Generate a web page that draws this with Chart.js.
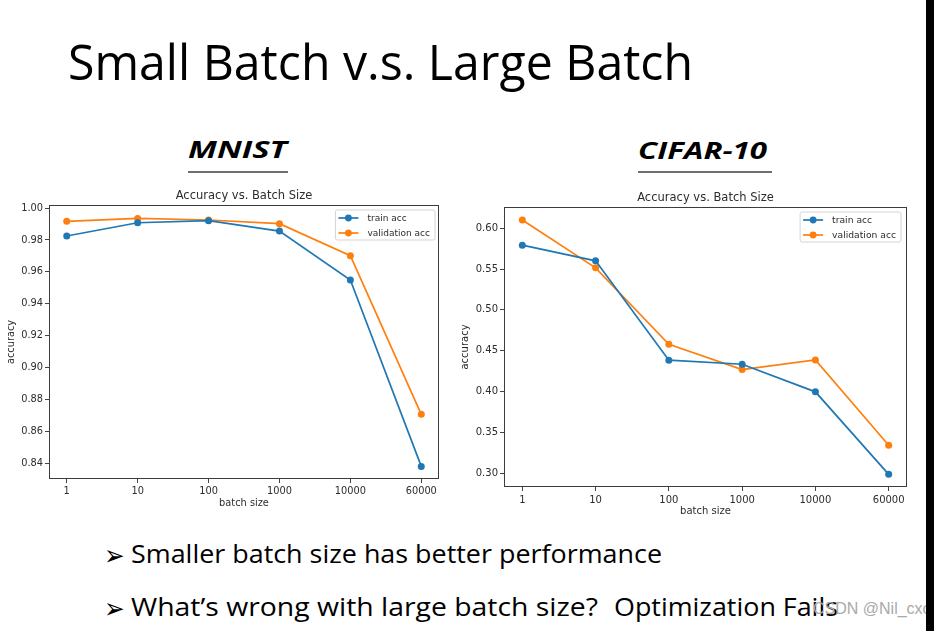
<!DOCTYPE html>
<html>
<head>
<meta charset="utf-8">
<script src="https://cdn.jsdelivr.net/npm/chart.js@4.4.0/dist/chart.umd.min.js"></script>
<style>
  body { margin: 0; width: 934px; height: 631px; background: #fff; overflow: hidden; position: relative; font-family: 'Open Sans', sans-serif; color: #000; }
  .txt { position: absolute; white-space: nowrap; line-height: 1; transform-origin: 0 0; }
  .uline { position: absolute; height: 2.5px; background: #6e6e6e; }
  .arrow { font-family: 'DejaVu Sans', sans-serif; font-size: 28px; transform: scaleX(0.88); }
  .panel { position: absolute; }
  #mark { font-family: 'Liberation Sans', Arial, sans-serif; color: #a9a9a9; font-size: 16px; }
  #edge { position: absolute; left: 926px; top: 0; width: 8px; height: 631px; background: #000; }
</style>
</head>
<body>

<div class="txt" id="title" style="left:68px; top:36px; font-size:50px;">Small Batch v.s. Large Batch</div>

<div class="txt" id="mnistHead" style="left:188px; top:137px; font-size:24px; font-weight:700; font-style:italic;">MNIST</div>
<div class="uline" style="left:188px; top:170.5px; width:100px;"></div>
<div class="txt" id="cifarHead" style="left:638px; top:137.5px; font-size:24px; font-weight:700; font-style:italic;">CIFAR-10</div>
<div class="uline" style="left:638px; top:170.5px; width:134px;"></div>

<div class="panel" style="left:0px; top:185px;"><canvas id="mnist-chart" width="446" height="326"></canvas></div>
<div class="panel" style="left:455px; top:187px;"><canvas id="cifar-chart" width="458" height="332"></canvas></div>

<div class="txt arrow" style="left:104px; top:542px;">&#10146;</div>
<div class="txt" id="line1" style="left:131px; top:540px; font-size:26px;">Smaller batch size has better performance</div>
<div class="txt arrow" style="left:104px; top:595px;">&#10146;</div>
<div class="txt" id="line2a" style="left:131px; top:593px; font-size:26px;">What’s wrong with large batch size?</div>
<div class="txt" id="line2b" style="left:614px; top:593px; font-size:26px;">Optimization Fails</div>

<div class="txt" id="mark" style="left:813px; top:600.5px;">CSDN @Nil_cxc</div>
<div id="edge"></div>

<script>
// Data
const batchSizes = ['1', '10', '100', '1000', '10000', '60000'];

const mnistTrain = [0.9825, 0.9908, 0.9921, 0.9856, 0.9550, 0.8383];
const mnistVal   = [0.9917, 0.9935, 0.9925, 0.9902, 0.9702, 0.8709];
const mnistTicks = [0.84, 0.86, 0.88, 0.90, 0.92, 0.94, 0.96, 0.98, 1.00];

const cifarTrain = [0.5792, 0.5600, 0.4383, 0.4333, 0.3995, 0.2984];
const cifarVal   = [0.6101, 0.5515, 0.4578, 0.4268, 0.4386, 0.3340];
const cifarTicks = [0.30, 0.35, 0.40, 0.45, 0.50, 0.55, 0.60];

const BLUE = '#1f77b4';
const ORANGE = '#ff7f0e';
const INK = '#2c2c2c';

Chart.defaults.font.family = "'DejaVu Sans', sans-serif";
Chart.defaults.color = INK;

// squeeze or stretch a text block to the width it has in the slide
function fitWidth(id, width) {
  const el = document.getElementById(id);
  const w = el.getBoundingClientRect().width;
  el.style.transform = 'scaleX(' + (width / w) + ')';
}

fitWidth('title', 625);
fitWidth('mnistHead', 99);
fitWidth('cifarHead', 129);
fitWidth('line1', 531);
fitWidth('line2a', 467);
fitWidth('line2b', 224);

// frame, title and legend drawn the matplotlib way (inside the axes)
const framePlugin = {
  id: 'frame',
  afterDraw(chart, args, opts) {
    const ctx = chart.ctx;
    const a = chart.chartArea;
    ctx.save();

    ctx.strokeStyle = '#3c3c3c';
    ctx.lineWidth = 1;
    ctx.strokeRect(a.left + 0.5, a.top + 0.5, a.width - 1, a.height - 1);

    ctx.fillStyle = INK;
    ctx.font = "11.5px 'DejaVu Sans'";
    ctx.textAlign = 'center';
    ctx.textBaseline = 'middle';
    ctx.fillText(opts.title, (a.left + a.right) / 2, a.top - 9);

    // legend box in the upper right corner
    const ds = chart.data.datasets;
    ctx.font = opts.legendFont + "px 'DejaVu Sans'";
    const tw = Math.max(...ds.map(d => ctx.measureText(d.label).width));
    const w = 32 + tw + 5;
    const h = 30;
    const bx = a.right - opts.legendRight - w;
    const by = a.top + 5;
    ctx.beginPath();
    ctx.roundRect(bx, by, w, h, 2);
    ctx.fillStyle = 'rgba(255,255,255,0.8)';
    ctx.fill();
    ctx.strokeStyle = '#d4d4d4';
    ctx.stroke();

    ds.forEach((d, i) => {
      const y = by + 8 + i * 15;
      ctx.strokeStyle = d.borderColor;
      ctx.lineWidth = 1.7;
      ctx.beginPath();
      ctx.moveTo(bx + 3, y);
      ctx.lineTo(bx + 23, y);
      ctx.stroke();
      ctx.fillStyle = d.borderColor;
      ctx.beginPath();
      ctx.arc(bx + 13, y, 3.4, 0, Math.PI * 2);
      ctx.fill();
      ctx.fillStyle = INK;
      ctx.textAlign = 'left';
      ctx.fillText(d.label, bx + 32, y + 0.5);
    });
    ctx.restore();
  }
};

function series(label, values, color) {
  return {
    label: label,
    data: values.map((v, i) => ({ x: i, y: v })),
    borderColor: color,
    backgroundColor: color,
    borderWidth: 1.7,
    pointRadius: 3.5,
    pointBorderWidth: 0,
    pointHoverRadius: 3.5,
    tension: 0
  };
}

function makeChart(id, train, val, yTicks, yMin, yMax, cfg) {
  const ctx = document.getElementById(id).getContext('2d');
  return new Chart(ctx, {
    type: 'line',
    data: {
      datasets: [
        series('train acc', train, BLUE),
        series('validation acc', val, ORANGE)
      ]
    },
    options: {
      responsive: false,
      animation: false,
      events: [],
      layout: { padding: { top: 20, right: cfg.padRight, left: 0, bottom: 0 } },
      plugins: {
        legend: { display: false },
        tooltip: { enabled: false },
        frame: { title: 'Accuracy vs. Batch Size', legendFont: cfg.legendFont, legendRight: cfg.legendRight }
      },
      scales: {
        x: {
          type: 'linear',
          min: -0.25,
          max: 5.25,
          afterBuildTicks: s => { s.ticks = batchSizes.map((_, i) => ({ value: i })); },
          afterFit: s => { s.height = 32; },
          ticks: {
            callback: v => batchSizes[v],
            font: { size: cfg.font },
            padding: 3,
            maxRotation: 0,
            autoSkip: false
          },
          grid: { drawOnChartArea: false, tickLength: 4, color: '#444' },
          border: { display: false },
          title: { display: true, text: 'batch size', font: { size: cfg.font }, padding: { top: 0, bottom: 2 } }
        },
        y: {
          min: yMin,
          max: yMax,
          afterBuildTicks: s => { s.ticks = yTicks.map(v => ({ value: v })); },
          afterFit: s => { s.width = 49; },
          ticks: {
            callback: v => v.toFixed(2),
            font: { size: cfg.font },
            padding: 2
          },
          grid: { drawOnChartArea: false, tickLength: 4, color: '#444' },
          border: { display: false },
          title: { display: true, text: 'accuracy', font: { size: cfg.font }, padding: { top: cfg.yTitlePad, bottom: 0 } }
        }
      }
    },
    plugins: [framePlugin]
  });
}

makeChart('mnist-chart', mnistTrain, mnistVal, mnistTicks, 0.8304, 1.0019,
  { padRight: 7, font: 9.8, legendFont: 9, legendRight: 4, yTitlePad: 6 });
makeChart('cifar-chart', cifarTrain, cifarVal, cifarTicks, 0.2829, 0.626,
  { padRight: 6, font: 10, legendFont: 9.2, legendRight: 6, yTitlePad: 4.3 });
</script>
</body>
</html>
